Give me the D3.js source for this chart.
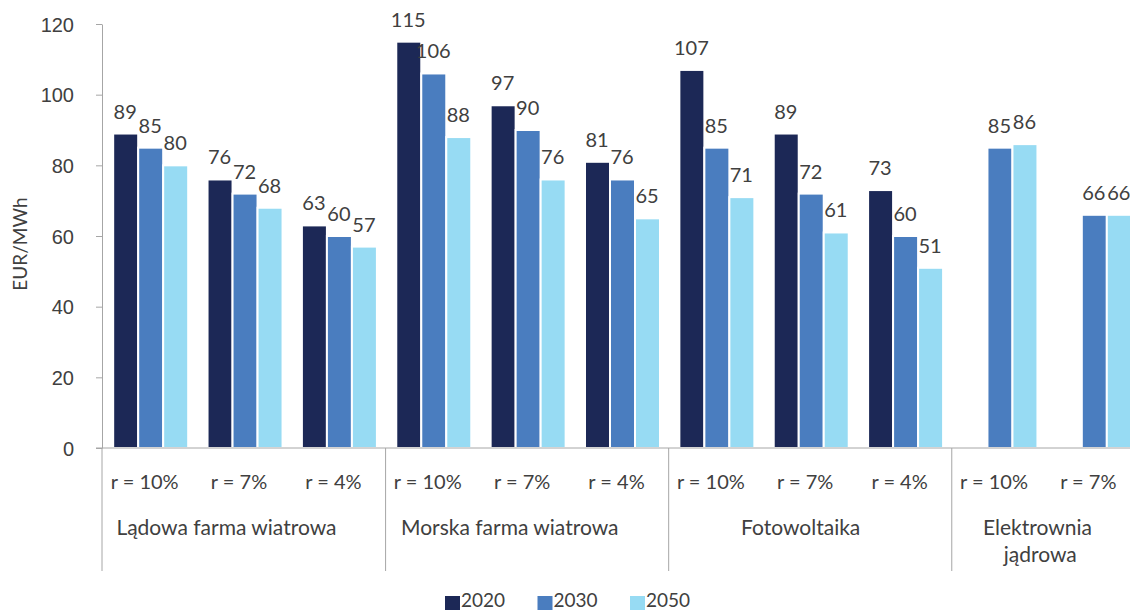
<!DOCTYPE html>
<html>
<head>
<meta charset="utf-8">
<script src="https://cdn.jsdelivr.net/npm/d3@7"></script>
<style>
  html, body { margin: 0; padding: 0; background: #fff; }
  svg { display: block; font-family: Lato, "Open Sans", sans-serif; }
</style>
</head>
<body>
<svg id="chart" width="1130" height="610"></svg>
<script>
// Technology groups and the discount-rate variants within each
const groups = ["Lądowa farma wiatrowa", "Morska farma wiatrowa", "Fotowoltaika", "Elektrownia jądrowa"];
const groupRates = [
  ["r = 10%", "r = 7%", "r = 4%"],
  ["r = 10%", "r = 7%", "r = 4%"],
  ["r = 10%", "r = 7%", "r = 4%"],
  ["r = 10%", "r = 7%"]
];
const seriesYears = ["2020", "2030", "2050"];
// LCOE, EUR/MWh, one entry per rate variant (in group order)
const values2020 = [89, 76, 63, 115, 97, 81, 107, 89, 73, null, null];
const values2030 = [85, 72, 60, 106, 90, 76, 85, 72, 60, 85, 66];
const values2050 = [80, 68, 57, 88, 76, 65, 71, 61, 51, 86, 66];
const yTicks = [0, 20, 40, 60, 80, 100, 120];
const yLabel = "EUR/MWh";

const colors = ["#1c2856", "#4a7dbf", "#97dbf3"];
const axisColor = "#a6a6a6";
const textColor = "#404040";

const svg = d3.select("#chart");

// Flatten groups into slots
const slots = [];
groupRates.forEach((rates, g) => rates.forEach((r, k) => slots.push({ group: g, rate: r, idx: slots.length })));
const seriesValues = [values2020, values2030, values2050];

const axisX = 102;
const x = d3.scaleBand().domain(slots.map(d => d.idx)).range([102.5, 1140.5]).padding(0);
const y = d3.scaleLinear().domain([0, 120]).range([448, 24]);

const inner = d3.scaleBand().domain(seriesYears)
  .range([x.bandwidth() / 2 - 37.5 + 1, x.bandwidth() / 2 + 37.5 + 1]).padding(0);

// y axis
const yAxis = d3.axisLeft(y).tickValues(yTicks).tickSize(6).tickPadding(22).tickSizeOuter(0);
const yg = svg.append("g").attr("transform", `translate(${axisX},0)`).call(yAxis);
yg.select(".domain").attr("stroke", axisColor);
yg.selectAll(".tick line").attr("stroke", axisColor);
yg.selectAll(".tick text").attr("fill", textColor).style("font-size", "20px").attr("dy", "0.36em");

svg.append("text")
  .attr("transform", "translate(27,244) rotate(-90)")
  .attr("text-anchor", "middle")
  .attr("fill", textColor)
  .style("font-size", "19px")
  .text(yLabel);

// bars
const barData = [];
slots.forEach(s => seriesYears.forEach((yr, si) => {
  const v = seriesValues[si][s.idx];
  if (v != null) barData.push({ slot: s.idx, series: yr, si, v });
}));

svg.append("g").selectAll("rect").data(barData).join("rect")
  .attr("x", d => x(d.slot) + inner(d.series))
  .attr("y", d => y(d.v))
  .attr("width", inner.bandwidth())
  .attr("height", d => y(0) - y(d.v))
  .attr("fill", d => colors[d.si])
  .attr("stroke", "#fff")
  .attr("stroke-width", 2);

// value labels
svg.append("g").selectAll("text").data(barData).join("text")
  .attr("x", d => x(d.slot) + inner(d.series) + inner.bandwidth() / 2 - 0.5)
  .attr("y", d => y(d.v) - 15)
  .attr("text-anchor", "middle")
  .attr("fill", textColor)
  .style("font-size", "20px")
  .text(d => d.v);

// x axis baseline
svg.append("line")
  .attr("x1", axisX - 6).attr("x2", 1130)
  .attr("y1", y(0)).attr("y2", y(0))
  .attr("stroke", axisColor);

// group separators
const groupStarts = [];
let acc = 0;
groupRates.forEach(r => { groupStarts.push(acc); acc += r.length; });
svg.append("g").selectAll("line").data(groupStarts.slice(1)).join("line")
  .attr("x1", d => x(d)).attr("x2", d => x(d))
  .attr("y1", y(0)).attr("y2", 571)
  .attr("stroke", axisColor);
svg.append("line").attr("x1", axisX).attr("x2", axisX).attr("y1", y(0)).attr("y2", 571).attr("stroke", axisColor);

// rate labels
svg.append("g").selectAll("text").data(slots).join("text")
  .attr("x", d => x(d.idx) + x.bandwidth() / 2 - 5)
  .attr("y", 489)
  .attr("text-anchor", "middle")
  .attr("fill", textColor)
  .style("font-size", "20px")
  .text(d => d.rate);

// group labels (wrapped for the last group)
const groupLines = [["Lądowa farma wiatrowa"], ["Morska farma wiatrowa"], ["Fotowoltaika"], ["Elektrownia", "jądrowa"]];
groups.forEach((g, i) => {
  const start = x(groupStarts[i]);
  const end = start + x.bandwidth() * groupRates[i].length;
  const cx = (start + end) / 2;
  const t = svg.append("text")
    .attr("y", 535)
    .attr("text-anchor", "middle")
    .attr("fill", textColor)
    .style("font-size", "21px");
  groupLines[i].forEach((ln, j) => t.append("tspan").attr("dy", j ? 27 : 0).text(ln));
  // labels sit slightly left of the group centre, more so for wider text
  t.selectAll("tspan").each(function () {
    const w = this.getComputedTextLength();
    d3.select(this).attr("x", cx - 0.08 * w);
  });
});

// legend
const legend = svg.append("g").attr("transform", "translate(445,0)");
seriesYears.forEach((yr, i) => {
  const lg = legend.append("g").attr("transform", `translate(${i * 92.5},0)`);
  lg.append("rect").attr("x", 0).attr("y", 596).attr("width", 15).attr("height", 14).attr("fill", colors[i]);
  lg.append("text").attr("x", 16).attr("y", 607).attr("fill", textColor).style("font-size", "19px").text(yr);
});
</script>
</body>
</html>
